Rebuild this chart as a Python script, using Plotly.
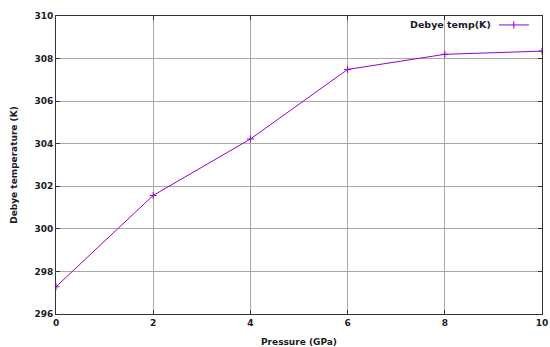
import plotly.graph_objects as go

# Debye temperature vs pressure
pressure = [0, 2, 4, 6, 8, 10]
debye_temp = [297.28, 301.57, 304.22, 307.49, 308.2, 308.35]
x_ticks = [0, 2, 4, 6, 8, 10]
y_ticks = [296, 298, 300, 302, 304, 306, 308, 310]
series_name = "Debye temp(K)"
line_color = "#9400D3"
text_color = "#1a1a2a"
font_family = "DejaVu Sans"

fig = go.Figure()
fig.add_trace(go.Scatter(
    x=pressure, y=debye_temp, mode="lines+markers", name=series_name,
    line=dict(color=line_color, width=1),
    marker=dict(symbol="cross-thin", size=5, line=dict(color=line_color, width=1)),
    showlegend=False,
))

axis_common = dict(
    showgrid=True, gridcolor="#a8a8a8", gridwidth=1,
    showline=True, linecolor="#333333", linewidth=1, mirror="ticks",
    ticks="inside", ticklen=4, tickcolor="#333333",
    zeroline=False, automargin=False,
    tickfont=dict(family=font_family, size=9, color=text_color, weight="bold"),
)

fig.update_layout(
    width=550, height=347,
    margin=dict(l=56, r=8, t=16, b=33),
    paper_bgcolor="white", plot_bgcolor="white",
    xaxis=dict(range=[0, 10], tickvals=x_ticks, title=dict(
        text="Pressure (GPa)", standoff=11,
        font=dict(family=font_family, size=9, color=text_color, weight="bold")), **axis_common),
    yaxis=dict(range=[296, 310], tickvals=y_ticks, title=dict(
        text="Debye temperature (K)", standoff=15,
        font=dict(family=font_family, size=9, color=text_color, weight="bold")), **axis_common),
)

# Key in the top-right corner: label followed by a line sample
fig.add_annotation(
    x=0.899, y=0.97, xref="paper", yref="paper", xanchor="right", yanchor="middle",
    text=series_name, showarrow=False,
    font=dict(family=font_family, size=9.5, color=text_color, weight="bold"),
)
fig.add_shape(type="line", xref="paper", yref="paper",
              x0=0.9115, x1=0.973, y0=0.97, y1=0.97,
              line=dict(color=line_color, width=1))
fig.add_shape(type="line", xref="paper", yref="paper",
              x0=0.942, x1=0.942, y0=0.958, y1=0.982,
              line=dict(color=line_color, width=1))

fig.write_html("out.html")
